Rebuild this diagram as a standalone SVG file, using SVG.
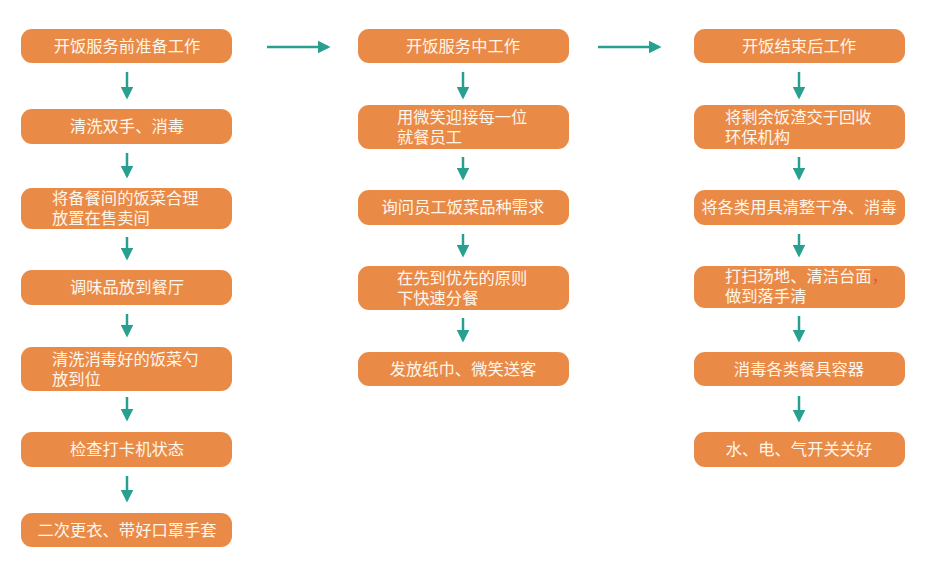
<svg xmlns="http://www.w3.org/2000/svg" width="932" height="569" viewBox="0 0 932 569">
<defs>
<style>
.box{fill:#EA8A47;}
.t{font-family:"Noto Sans CJK SC","Liberation Sans",sans-serif;font-size:16.3px;fill:#FFF6EA;}
.c{text-anchor:middle;}
.arr{stroke:#27A090;stroke-width:2.5;fill:none;marker-end:url(#ah);}
</style>
<marker id="ah" markerWidth="5" markerHeight="5" refX="4" refY="2.5" orient="auto" markerUnits="strokeWidth">
<path d="M0,0 L5,2.5 L0,5 Z" fill="#27A090"/>
</marker>
</defs>
<rect width="932" height="569" fill="#ffffff"/>
<g id="connectors">
<line class="arr" x1="267" y1="47" x2="328" y2="47"/>
<line class="arr" x1="598" y1="47" x2="659" y2="47"/>
<line class="arr" x1="127" y1="72" x2="127" y2="97"/>
<line class="arr" x1="127" y1="153" x2="127" y2="176"/>
<line class="arr" x1="127" y1="237" x2="127" y2="258"/>
<line class="arr" x1="127" y1="314" x2="127" y2="335"/>
<line class="arr" x1="127" y1="397" x2="127" y2="419"/>
<line class="arr" x1="127" y1="476" x2="127" y2="500"/>
<line class="arr" x1="463" y1="72" x2="463" y2="97"/>
<line class="arr" x1="463" y1="157" x2="463" y2="178"/>
<line class="arr" x1="463" y1="234" x2="463" y2="255"/>
<line class="arr" x1="463" y1="318" x2="463" y2="340"/>
<line class="arr" x1="799" y1="72" x2="799" y2="97"/>
<line class="arr" x1="799" y1="157" x2="799" y2="178"/>
<line class="arr" x1="799" y1="234" x2="799" y2="255"/>
<line class="arr" x1="799" y1="316" x2="799" y2="340"/>
<line class="arr" x1="799" y1="396" x2="799" y2="420"/>
</g>
<g id="n1"><rect class="box" x="21" y="29" width="211" height="34" rx="11"/><text class="t c" x="127" y="52">开饭服务前准备工作</text></g>
<g id="n2"><rect class="box" x="21" y="109" width="211" height="35" rx="11"/><text class="t c" x="127" y="132">清洗双手、消毒</text></g>
<g id="n3"><rect class="box" x="21" y="188" width="211" height="41" rx="11"/><text class="t" x="52" y="204">将备餐间的饭菜合理<tspan x="52" dy="20">放置在售卖间</tspan></text></g>
<g id="n4"><rect class="box" x="21" y="270" width="211" height="35" rx="11"/><text class="t c" x="127" y="293">调味品放到餐厅</text></g>
<g id="n5"><rect class="box" x="21" y="347" width="211" height="44" rx="11"/><text class="t" x="52" y="365">清洗消毒好的饭菜勺<tspan x="52" dy="20">放到位</tspan></text></g>
<g id="n6"><rect class="box" x="21" y="432" width="211" height="35" rx="11"/><text class="t c" x="127" y="455">检查打卡机状态</text></g>
<g id="n7"><rect class="box" x="21" y="513" width="211" height="34" rx="11"/><text class="t c" x="127" y="536">二次更衣、带好口罩手套</text></g>
<g id="m1"><rect class="box" x="358" y="29" width="211" height="34" rx="11"/><text class="t c" x="463" y="52">开饭服务中工作</text></g>
<g id="m2"><rect class="box" x="358" y="105" width="211" height="44" rx="11"/><text class="t" x="397" y="123">用微笑迎接每一位<tspan x="397" dy="20">就餐员工</tspan></text></g>
<g id="m3"><rect class="box" x="358" y="190" width="211" height="35" rx="11"/><text class="t c" x="463" y="213">询问员工饭菜品种需求</text></g>
<g id="m4"><rect class="box" x="358" y="266" width="211" height="44" rx="11"/><text class="t" x="397" y="284">在先到优先的原则<tspan x="397" dy="20">下快速分餐</tspan></text></g>
<g id="m5"><rect class="box" x="358" y="352" width="211" height="34" rx="11"/><text class="t c" x="463" y="375">发放纸巾、微笑送客</text></g>
<g id="r1"><rect class="box" x="694" y="29" width="211" height="34" rx="11"/><text class="t c" x="799" y="52">开饭结束后工作</text></g>
<g id="r2"><rect class="box" x="694" y="105" width="211" height="44" rx="11"/><text class="t" x="725" y="123">将剩余饭渣交于回收<tspan x="725" dy="20">环保机构</tspan></text></g>
<g id="r3"><rect class="box" x="694" y="190" width="211" height="35" rx="11"/><text class="t c" x="799" y="213">将各类用具清整干净、消毒</text></g>
<g id="r4"><rect class="box" x="694" y="266" width="211" height="42" rx="11"/><text class="t" x="725" y="282">打扫场地、清洁台面<tspan fill="#E0504A">，</tspan><tspan x="725" dy="20">做到落手清</tspan></text></g>
<g id="r5"><rect class="box" x="694" y="352" width="211" height="34" rx="11"/><text class="t c" x="799" y="375">消毒各类餐具容器</text></g>
<g id="r6"><rect class="box" x="694" y="432" width="211" height="35" rx="11"/><text class="t c" x="799" y="455">水、电、气开关关好</text></g>
</svg>
